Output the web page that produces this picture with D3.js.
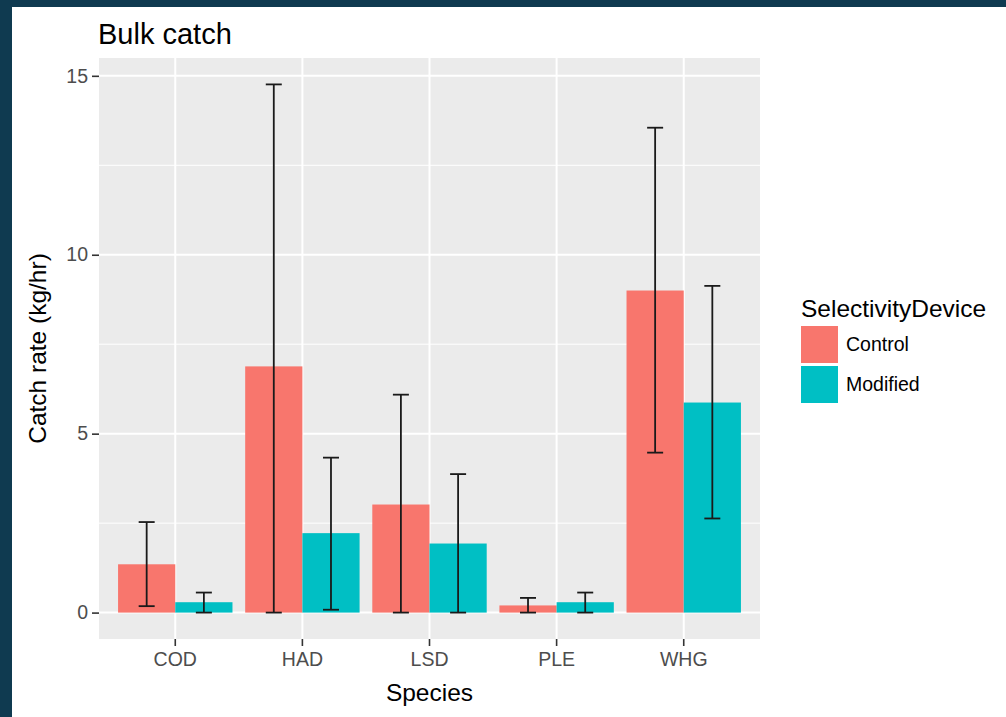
<!DOCTYPE html>
<html>
<head>
<meta charset="utf-8">
<script src="https://cdn.jsdelivr.net/npm/d3@7"></script>
<style>
  html, body { margin: 0; padding: 0; background: #0f3a50; }
  svg { display: block; font-family: "Liberation Sans", Arial, sans-serif; }
</style>
</head>
<body>
<svg id="chart" width="1006" height="717"></svg>
<script>
// data
const species = ["COD", "HAD", "LSD", "PLE", "WHG"];
const devices = ["Control", "Modified"];
const controlMean = [1.35, 6.88, 3.02, 0.2, 9.0];
const controlLow = [0.18, 0, 0, 0, 4.47];
const controlHigh = [2.53, 14.76, 6.09, 0.41, 13.55];
const modifiedMean = [0.29, 2.22, 1.93, 0.29, 5.87];
const modifiedLow = [0, 0.08, 0, 0, 2.63];
const modifiedHigh = [0.56, 4.33, 3.87, 0.56, 9.13];
const yTicks = [0, 5, 10, 15];
const yMinor = [2.5, 7.5, 12.5];
const colors = { Control: "#F8766D", Modified: "#00BFC4" };

const rows = [];
species.forEach((s, i) => {
  rows.push({ species: s, device: "Control", mean: controlMean[i], lo: controlLow[i], hi: controlHigh[i] });
  rows.push({ species: s, device: "Modified", mean: modifiedMean[i], lo: modifiedLow[i], hi: modifiedHigh[i] });
});

const svg = d3.select("#chart");
const panel = { left: 99, right: 760, top: 58, bottom: 639 };

// dark frame + white page
svg.append("rect").attr("width", 1006).attr("height", 717).attr("fill", "#0f3a50");
svg.append("rect").attr("x", 12).attr("y", 7).attr("width", 994).attr("height", 710).attr("fill", "#ffffff");

// scales (ggplot style expansion)
const yMax = d3.max(rows, (d) => d.hi);
const pad = yMax * 0.05;
const y = d3.scaleLinear().domain([-pad, yMax + pad]).range([panel.bottom, panel.top]);

const x = d3.scaleBand()
  .domain(species)
  .range([panel.left, panel.right])
  .paddingInner(0)
  .paddingOuter(0.1);

const xDodge = d3.scaleBand()
  .domain(devices)
  .range([x.bandwidth() * 0.05, x.bandwidth() * 0.95]);

// panel background
svg.append("rect")
  .attr("x", panel.left).attr("y", panel.top)
  .attr("width", panel.right - panel.left).attr("height", panel.bottom - panel.top)
  .attr("fill", "#EBEBEB");

// grid lines
svg.append("g").selectAll("line").data(yMinor).join("line")
  .attr("x1", panel.left).attr("x2", panel.right)
  .attr("y1", (d) => y(d)).attr("y2", (d) => y(d))
  .attr("stroke", "#fff").attr("stroke-width", 1);

svg.append("g").selectAll("line").data(yTicks).join("line")
  .attr("x1", panel.left).attr("x2", panel.right)
  .attr("y1", (d) => y(d)).attr("y2", (d) => y(d))
  .attr("stroke", "#fff").attr("stroke-width", 2);

svg.append("g").selectAll("line").data(species).join("line")
  .attr("x1", (d) => x(d) + x.bandwidth() / 2).attr("x2", (d) => x(d) + x.bandwidth() / 2)
  .attr("y1", panel.top).attr("y2", panel.bottom)
  .attr("stroke", "#fff").attr("stroke-width", 2);

// bars
svg.append("g").selectAll("rect").data(rows).join("rect")
  .attr("x", (d) => x(d.species) + xDodge(d.device))
  .attr("y", (d) => y(d.mean))
  .attr("width", xDodge.bandwidth())
  .attr("height", (d) => y(0) - y(d.mean))
  .attr("fill", (d) => colors[d.device]);

// error bars
const capHalf = 8;
const eb = svg.append("g").attr("stroke", "#1a1a1a").attr("stroke-width", 1.8).attr("fill", "none");
rows.forEach((d) => {
  const cx = x(d.species) + xDodge(d.device) + xDodge.bandwidth() / 2;
  eb.append("line").attr("x1", cx).attr("x2", cx).attr("y1", y(d.lo)).attr("y2", y(d.hi));
  eb.append("line").attr("x1", cx - capHalf).attr("x2", cx + capHalf).attr("y1", y(d.lo)).attr("y2", y(d.lo));
  eb.append("line").attr("x1", cx - capHalf).attr("x2", cx + capHalf).attr("y1", y(d.hi)).attr("y2", y(d.hi));
});

// axes
const yAxis = svg.append("g")
  .attr("transform", `translate(${panel.left},0)`)
  .call(d3.axisLeft(y).tickValues(yTicks).tickSize(7).tickPadding(4));
const xAxis = svg.append("g")
  .attr("transform", `translate(0,${panel.bottom})`)
  .call(d3.axisBottom(x).tickSize(7).tickPadding(6));

[yAxis, xAxis].forEach((g) => {
  g.select(".domain").remove();
  g.selectAll(".tick line").attr("stroke", "#333").attr("stroke-width", 1.6);
  g.selectAll(".tick text")
    .attr("fill", "#4D4D4D")
    .style("font-size", "19.5px")
    .style("font-family", "'Liberation Sans', Arial, sans-serif");
});

// title and axis titles
svg.append("text")
  .attr("x", 98).attr("y", 44)
  .style("font-size", "29px")
  .attr("fill", "#000")
  .text("Bulk catch");

svg.append("text")
  .attr("x", (panel.left + panel.right) / 2).attr("y", 701)
  .attr("text-anchor", "middle")
  .style("font-size", "24.5px")
  .text("Species");

svg.append("text")
  .attr("transform", `translate(46,${(panel.top + panel.bottom) / 2}) rotate(-90)`)
  .attr("text-anchor", "middle")
  .style("font-size", "24.5px")
  .text("Catch rate (kg/hr)");

// legend
const legend = svg.append("g").attr("transform", "translate(801,0)");
legend.append("text")
  .attr("x", 0).attr("y", 317)
  .style("font-size", "24.5px")
  .text("SelectivityDevice");

const keys = legend.selectAll("g.key").data(devices).join("g")
  .attr("class", "key")
  .attr("transform", (d, i) => `translate(0,${326 + i * 40})`);
keys.append("rect")
  .attr("width", 37).attr("height", 37)
  .attr("fill", (d) => colors[d]);
keys.append("text")
  .attr("x", 45).attr("y", 18.5)
  .attr("dy", "0.35em")
  .style("font-size", "19.5px")
  .text((d) => d);
</script>
</body>
</html>
